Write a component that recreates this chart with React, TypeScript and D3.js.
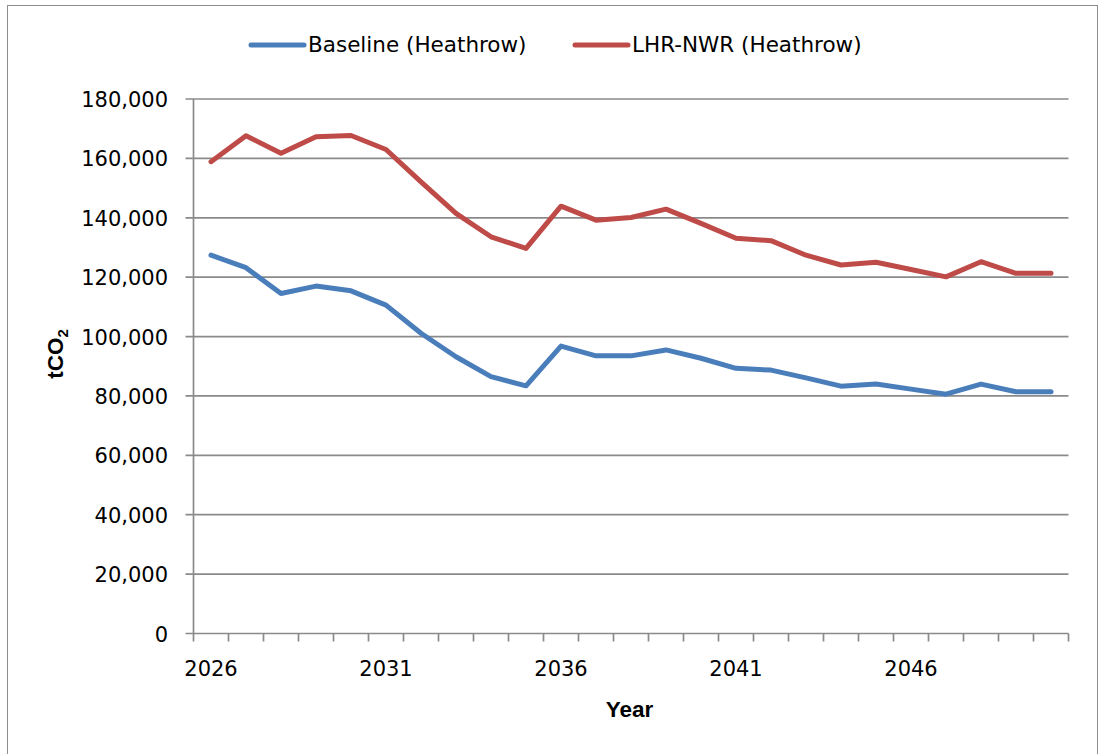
import React from "react";
import * as d3 from "d3";

const years = d3.range(2026, 2051).map(String);
const baseline = [127400, 123200, 114500, 117000, 115400, 110600, 101100, 93200, 86500, 83400, 96800, 93500, 93500, 95500, 92700, 89300, 88700, 86100, 83300, 84000, 82300, 80600, 84000, 81400, 81400];
const lhrNwr = [158900, 167600, 161700, 167300, 167700, 163000, 152100, 141500, 133600, 129700, 143900, 139200, 140100, 142900, 138100, 133100, 132300, 127400, 124100, 125000, 122600, 120100, 125200, 121300, 121300];
const yTicks = [0, 20000, 40000, 60000, 80000, 100000, 120000, 140000, 160000, 180000];
const xLabelYears = ["2026", "2031", "2036", "2041", "2046"];
const seriesNames = ["Baseline (Heathrow)", "LHR-NWR (Heathrow)"];

const W = 1100, H = 754;
const L = 193.5, R = 1068.5, T = 99, B = 633.5;
const BLUE = "#4a7ebb", RED = "#be4b48", GRID = "#8a8a8a";
const FONT = "DejaVu Sans";

export default function App() {
  const x = d3.scaleBand().domain(years).range([L, R]).paddingInner(0).paddingOuter(0);
  const y = d3.scaleLinear().domain([0, 180000]).range([B, T]);
  const cx = (d: string) => (x(d) as number) + x.bandwidth() / 2;
  const line = d3.line<number>().x((_, i) => cx(years[i])).y((v) => y(v));
  const fmt = d3.format(",");
  const boundaries = d3.range(years.length + 1).map((k) => L + k * x.bandwidth());

  return (
    <svg width={W} height={H} style={{ position: "absolute", left: 0, top: 0, background: "#fff" }}>
      <rect x={7.5} y={5.5} width={1090} height={760} fill="#fff" stroke="#8c8c8c" strokeWidth={1} />
      {yTicks.map((t) => (
        <g key={t}>
          <line x1={L - 8} x2={t === 0 ? R : R} y1={y(t)} y2={y(t)} stroke={GRID} strokeWidth={1.7} />
          <text x={168} y={y(t) + 8} textAnchor="end" fontFamily={FONT} fontSize={21} fill="#000">{fmt(t)}</text>
        </g>
      ))}
      <line x1={L} x2={L} y1={T} y2={B} stroke={GRID} strokeWidth={1.7} />
      {boundaries.map((b, i) => (
        <line key={i} x1={b} x2={b} y1={B} y2={B + 8} stroke={GRID} strokeWidth={1.7} />
      ))}
      {xLabelYears.map((yr) => (
        <text key={yr} x={cx(yr)} y={676} textAnchor="middle" fontFamily={FONT} fontSize={21} fill="#000">{yr}</text>
      ))}
      <path d={line(baseline) || ""} fill="none" stroke={BLUE} strokeWidth={5} strokeLinejoin="round" strokeLinecap="round" />
      <path d={line(lhrNwr) || ""} fill="none" stroke={RED} strokeWidth={5} strokeLinejoin="round" strokeLinecap="round" />
      <text x={629.5} y={716.5} textAnchor="middle" fontFamily="Liberation Sans" fontWeight="bold" fontSize={22.5} fill="#000">Year</text>
      <text transform="translate(63,354) rotate(-90)" textAnchor="middle" fontFamily="Liberation Sans" fontWeight="bold" fontSize={22.5} fill="#000">
        tCO<tspan fontSize={15} dy={5}>2</tspan>
      </text>
      <g>
        <line x1={251} x2={304} y1={45} y2={45} stroke={BLUE} strokeWidth={5} strokeLinecap="round" />
        <text x={308} y={52} fontFamily={FONT} fontSize={21.5} fill="#000">{seriesNames[0]}</text>
        <line x1={575} x2={628} y1={45} y2={45} stroke={RED} strokeWidth={5} strokeLinecap="round" />
        <text x={632} y={52} fontFamily={FONT} fontSize={21.5} fill="#000">{seriesNames[1]}</text>
      </g>
    </svg>
  );
}
